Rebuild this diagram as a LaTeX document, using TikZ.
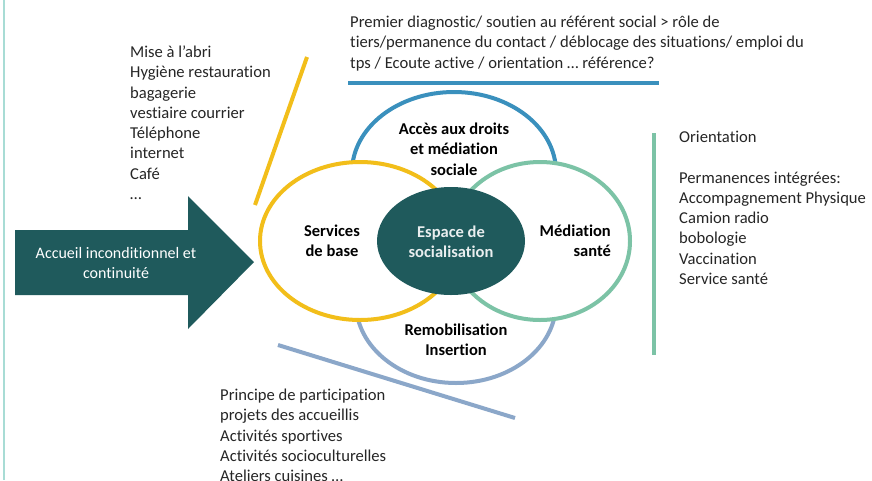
\documentclass[tikz,border=0pt]{standalone}
\usepackage{fontspec}
\setmainfont[Ligatures={NoCommon}]{Carlito}
\definecolor{darkteal}{HTML}{1F5A5C}
\definecolor{ylw}{HTML}{F2BE1A}
\definecolor{topblue}{HTML}{3A90BD}
\definecolor{grn}{HTML}{7CC3A6}
\definecolor{greyblue}{HTML}{8BA7C9}
\definecolor{edge}{HTML}{A8DCD5}
\definecolor{txt}{HTML}{262626}
\tikzset{
  ring/.style={line width=4pt, fill=white, draw=#1},
  lab/.style={font=\fontsize{16.5}{20.3}\selectfont\bfseries, text=black, inner sep=0pt, align=center},
  listtxt/.style={font=\fontsize{16.6}{20.3}\selectfont, text=txt, inner sep=0pt, align=left, anchor=north west},
  rule/.style={line width=4pt}
}
\begin{document}
\begin{tikzpicture}[x=1pt,y=-1pt]
\useasboundingbox[fill=white] (0,0) rectangle (872,480);
\draw[edge, line width=1.5pt] (4,0) -- (4,480);
% arrow
\fill[darkteal] (15,230) -- (188,230) -- (188,196) -- (254,262) -- (188,329) -- (188,295) -- (15,295) -- cycle;
\node[font=\fontsize{16}{20.3}\selectfont, text=white, align=center, inner sep=0pt] (acc) at (116,263) {Accueil inconditionnel et\\continuité};
% ellipses
\path[ring=topblue] (454,172) ellipse [x radius=102, y radius=80];
\path[ring=greyblue] (456,303) ellipse [x radius=100, y radius=80];
\path[ring=ylw] (360,241) ellipse [x radius=100, y radius=79];
\path[ring=grn] (540,241) ellipse [x radius=90, y radius=79];
\fill[darkteal] (451,241) ellipse [x radius=74, y radius=54];
% labels
\node[lab] (acces) at (454,149) {Accès aux droits\\et médiation\\sociale};
\node[lab] (serv) at (332,241) {Services\\de base};
\node[lab, text=white!90!darkteal] (esp) at (451,242) {Espace de\\socialisation};
\node[lab, align=right, anchor=east] (med) at (611,241) {Médiation\\santé};
\node[lab] (remo) at (456,340) {Remobilisation\\Insertion};
% rules
\draw[rule, ylw] (255,205) -- (307,57);
\draw[rule, topblue] (348,83) -- (659,83);
\draw[rule, grn] (654,133) -- (654,355);
\draw[rule, greyblue] (278,345) -- (515,418);
% text blocks
\node[listtxt] (lt) at (130,43) {\strut Mise à l’abri\\Hygiène restauration\\bagagerie\\vestiaire courrier\\Téléphone\\internet\\Café\\…};
\node[listtxt] (tt) at (350,13) {\strut Premier diagnostic/ soutien au référent social > rôle de\\tiers/permanence du contact / déblocage des situations/ emploi du\\tps / Ecoute active / orientation … référence?};
\node[listtxt] (rt) at (679,128) {\strut Orientation\\[20.3pt]Permanences intégrées:\\Accompagnement Physique\\Camion radio\\bobologie\\Vaccination\\Service santé};
\node[listtxt] (bt) at (220,386) {\strut Principe de participation\\projets des accueillis\\Activités sportives\\Activités socioculturelles\\Ateliers cuisines …};
\end{tikzpicture}
\end{document}
